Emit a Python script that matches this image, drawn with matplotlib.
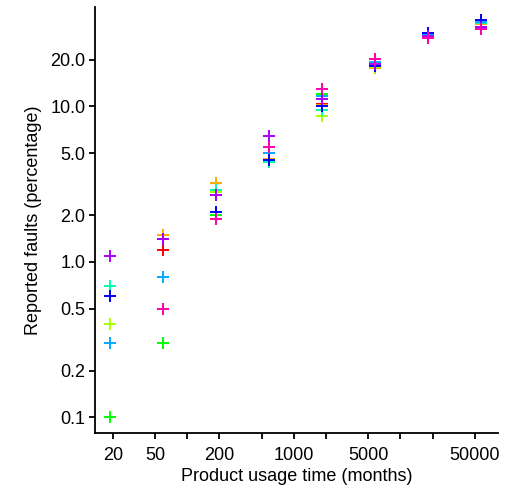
import numpy as np
import matplotlib
matplotlib.use('Agg')
import matplotlib.pyplot as plt

plt.rcParams['font.family'] = ['Liberation Sans', 'DejaVu Sans']

# usage time (months) for each measurement column
months = [19, 59, 186, 585, 1840, 5780, 18100, 57000]

# reported faults (%) per product line, nan = not reported
red = [np.nan, 1.2, 2.8, 4.5, 10.4, 18.0, 28.8, 34.5]
orange = [np.nan, 1.5, 3.2, 4.6, 10.2, 17.8, 28.5, 34.0]
yellowgreen = [0.4, 1.4, 2.8, 4.5, 8.7, 18.0, 28.8, 34.3]
green = [0.1, 0.3, 2.0, 4.4, 12.0, 18.2, 29.0, 34.5]
springgreen = [0.7, 1.4, 2.9, 4.4, 9.5, 18.4, 28.8, 34.3]
skyblue = [0.3, 0.8, 2.1, 5.0, 11.6, 19.4, 29.3, 35.0]
blue = [0.6, 1.4, 2.1, 4.5, 10.0, 18.3, 29.5, 35.8]
purple = [1.1, 1.4, 2.7, 6.5, 11.1, 18.7, 28.3, 32.5]
pink = [np.nan, 0.5, 1.9, 5.5, 12.9, 20.2, 27.5, 31.7]

series = [red, orange, yellowgreen, green, springgreen, skyblue, blue, purple, pink]
colors = ['#FF0000', '#FFAA00', '#AAFF00', '#00FF00', '#00FFAA',
          '#00AAFF', '#0000FF', '#AA00FF', '#FF00AA']

xticks = [20, 50, 100, 200, 500, 1000, 2000, 5000, 10000, 20000, 50000]
xlabels = ['20', '50', '', '200', '', '1000', '', '5000', '', '', '50000']
yticks = [0.1, 0.2, 0.5, 1, 2, 5, 10, 20]
ylabels = ['0.1', '0.2', '0.5', '1.0', '2.0', '5.0', '10.0', '20.0']

fig = plt.figure(figsize=(5.07, 4.90), dpi=100)
ax = fig.add_axes([0.1874, 0.1157, 0.7949, 0.8706])

for vals, c in zip(series, colors):
    ax.plot(months, vals, linestyle='none', marker='+', markersize=9,
            markeredgewidth=1.4, color=c)

ax.set_xscale('log')
ax.set_yscale('log')
ax.set_xlim(13.65, 82200)
ax.set_ylim(0.0791, 43.8)

ax.set_xticks(xticks)
ax.set_xticklabels(xlabels)
ax.set_yticks(yticks)
ax.set_yticklabels(ylabels)
ax.minorticks_off()

ax.tick_params(axis='both', which='major', labelsize=13, length=4, width=1.3,
               color='black', labelcolor='black')
ax.tick_params(axis='x', pad=6)
ax.tick_params(axis='y', pad=3)

for axis in ['bottom', 'left']:
    ax.spines[axis].set_linewidth(1.3)
for axis in ['top', 'right']:
    ax.spines[axis].set_visible(False)

ax.set_xlabel('Product usage time (months)', fontsize=13, labelpad=3)
ax.set_ylabel('Reported faults (percentage)', fontsize=13, labelpad=6)

fig.savefig('out.png', dpi=100)
